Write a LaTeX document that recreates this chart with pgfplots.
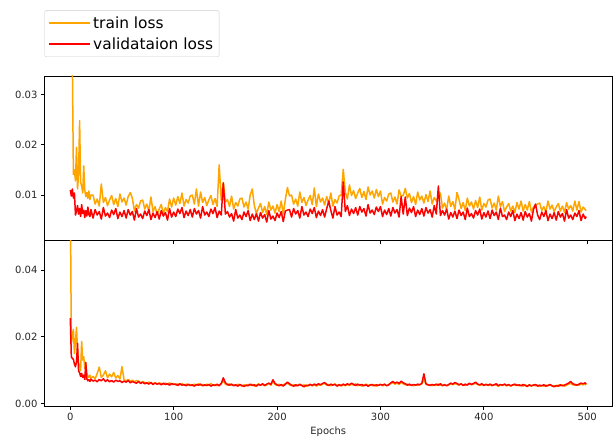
\documentclass[border=0pt]{standalone}
\usepackage{pgfplots}
\pgfplotsset{compat=1.18}
\usepackage{pgfplotstable}
\usepackage{fontspec}
\setmainfont{DejaVu Sans}
\definecolor{mplorange}{HTML}{FFA500}
\definecolor{mplred}{HTML}{FF0000}

\pgfplotstableread{
x t v
0 0.0600 0.0110
1 0.0420 0.0098
2 0.0360 0.0112
3 0.0141 0.0094
4 0.0150 0.0104
5 0.0128 0.0060
6 0.0195 0.0068
7 0.0112 0.0079
8 0.0140 0.0062
9 0.0248 0.0073
10 0.0125 0.0057
11 0.0118 0.0081
12 0.0104 0.0063
13 0.0158 0.0070
14 0.0110 0.0055
15 0.0097 0.0069
16 0.0105 0.0058
17 0.0093 0.0076
18 0.0108 0.0061
19 0.0091 0.0057
20 0.0100 0.0071
22 0.0100 0.0054
24 0.0082 0.0071
26 0.0092 0.0060
28 0.0078 0.0067
30 0.0122 0.0052
32 0.0085 0.0075
34 0.0095 0.0058
36 0.0079 0.0064
38 0.0090 0.0055
40 0.0099 0.0070
42 0.0081 0.0061
44 0.0093 0.0073
46 0.0077 0.0053
48 0.0102 0.0066
50 0.0086 0.0057
52 0.0094 0.0069
54 0.0080 0.0054
56 0.0097 0.0071
58 0.0105 0.0060
60 0.0094 0.0067
62 0.0068 0.0050
64 0.0081 0.0073
66 0.0074 0.0056
68 0.0088 0.0062
70 0.0090 0.0053
72 0.0072 0.0068
74 0.0082 0.0059
76 0.0068 0.0071
78 0.0096 0.0051
80 0.0067 0.0064
82 0.0077 0.0055
84 0.0061 0.0067
86 0.0072 0.0052
88 0.0081 0.0069
90 0.0063 0.0058
92 0.0075 0.0065
94 0.0067 0.0050
96 0.0092 0.0073
98 0.0076 0.0056
100 0.0094 0.0066
102 0.0080 0.0057
104 0.0097 0.0072
106 0.0083 0.0063
108 0.0104 0.0075
110 0.0078 0.0055
112 0.0091 0.0068
114 0.0084 0.0059
116 0.0098 0.0071
118 0.0100 0.0056
120 0.0082 0.0073
122 0.0112 0.0062
124 0.0078 0.0069
126 0.0106 0.0054
128 0.0085 0.0077
130 0.0095 0.0060
132 0.0079 0.0066
134 0.0090 0.0057
136 0.0099 0.0072
138 0.0081 0.0063
140 0.0093 0.0075
142 0.0077 0.0055
144 0.0160 0.0068
146 0.0090 0.0060
148 0.0125 0.0124
150 0.0086 0.0062
152 0.0091 0.0067
154 0.0077 0.0056
156 0.0098 0.0063
158 0.0072 0.0048
160 0.0085 0.0071
162 0.0078 0.0054
164 0.0092 0.0060
166 0.0094 0.0051
168 0.0076 0.0066
170 0.0086 0.0057
172 0.0072 0.0069
174 0.0100 0.0049
176 0.0112 0.0062
178 0.0079 0.0051
180 0.0063 0.0063
182 0.0074 0.0048
184 0.0083 0.0065
186 0.0065 0.0054
188 0.0077 0.0061
190 0.0061 0.0046
192 0.0086 0.0069
194 0.0070 0.0052
196 0.0078 0.0058
198 0.0064 0.0049
200 0.0081 0.0064
202 0.0067 0.0055
204 0.0088 0.0067
206 0.0062 0.0047
208 0.0091 0.0068
210 0.0115 0.0070
212 0.0098 0.0071
214 0.0100 0.0056
216 0.0082 0.0073
218 0.0092 0.0062
220 0.0078 0.0069
222 0.0106 0.0054
224 0.0085 0.0077
226 0.0095 0.0060
228 0.0079 0.0066
230 0.0090 0.0057
232 0.0099 0.0072
234 0.0081 0.0063
236 0.0114 0.0075
238 0.0077 0.0055
240 0.0102 0.0068
242 0.0086 0.0059
244 0.0094 0.0071
246 0.0080 0.0056
248 0.0097 0.0073
250 0.0083 0.0088
252 0.0104 0.0069
254 0.0078 0.0054
256 0.0091 0.0077
258 0.0084 0.0060
260 0.0098 0.0066
262 0.0100 0.0057
264 0.0151 0.0126
266 0.0106 0.0067
268 0.0092 0.0079
270 0.0120 0.0059
272 0.0099 0.0072
274 0.0109 0.0063
276 0.0093 0.0075
278 0.0104 0.0060
280 0.0113 0.0077
282 0.0095 0.0066
284 0.0107 0.0073
286 0.0091 0.0058
288 0.0116 0.0081
290 0.0100 0.0064
292 0.0108 0.0070
294 0.0094 0.0061
296 0.0111 0.0076
298 0.0097 0.0067
300 0.0108 0.0077
302 0.0082 0.0057
304 0.0095 0.0070
306 0.0088 0.0061
308 0.0102 0.0073
310 0.0104 0.0058
312 0.0086 0.0075
314 0.0096 0.0064
316 0.0082 0.0071
318 0.0110 0.0056
320 0.0098 0.0097
322 0.0099 0.0062
324 0.0113 0.0096
326 0.0094 0.0059
328 0.0103 0.0074
330 0.0085 0.0065
332 0.0097 0.0077
334 0.0081 0.0057
336 0.0106 0.0070
338 0.0090 0.0061
340 0.0098 0.0073
342 0.0084 0.0058
344 0.0101 0.0075
346 0.0087 0.0064
348 0.0108 0.0071
350 0.0082 0.0056
352 0.0095 0.0079
354 0.0088 0.0062
356 0.0096 0.0118
358 0.0104 0.0059
360 0.0074 0.0069
362 0.0084 0.0060
364 0.0070 0.0072
366 0.0098 0.0052
368 0.0077 0.0065
370 0.0087 0.0056
372 0.0071 0.0068
374 0.0105 0.0053
376 0.0091 0.0070
378 0.0073 0.0059
380 0.0085 0.0066
382 0.0069 0.0051
384 0.0094 0.0074
386 0.0078 0.0057
388 0.0086 0.0063
390 0.0072 0.0054
392 0.0089 0.0069
394 0.0075 0.0060
396 0.0096 0.0072
398 0.0070 0.0052
400 0.0083 0.0065
402 0.0076 0.0056
404 0.0090 0.0068
406 0.0092 0.0053
408 0.0074 0.0070
410 0.0084 0.0059
412 0.0070 0.0066
414 0.0098 0.0051
416 0.0077 0.0074
418 0.0087 0.0057
420 0.0067 0.0060
422 0.0076 0.0051
424 0.0083 0.0066
426 0.0068 0.0057
428 0.0078 0.0069
430 0.0065 0.0049
432 0.0085 0.0062
434 0.0072 0.0053
436 0.0088 0.0065
438 0.0068 0.0050
440 0.0081 0.0067
442 0.0070 0.0056
444 0.0087 0.0063
446 0.0066 0.0048
448 0.0076 0.0071
450 0.0080 0.0082
452 0.0082 0.0060
454 0.0084 0.0051
456 0.0069 0.0066
458 0.0077 0.0057
460 0.0066 0.0069
462 0.0088 0.0049
464 0.0072 0.0062
466 0.0080 0.0053
468 0.0067 0.0065
470 0.0076 0.0050
472 0.0083 0.0067
474 0.0068 0.0056
476 0.0078 0.0063
478 0.0065 0.0048
480 0.0085 0.0071
482 0.0072 0.0054
484 0.0079 0.0060
486 0.0068 0.0051
488 0.0088 0.0064
490 0.0070 0.0057
492 0.0087 0.0069
494 0.0066 0.0049
496 0.0076 0.0062
498 0.0071 0.0053
499 0.0069 0.0057
}\toptable

\pgfplotstableread{
x t v
0 0.0650 0.0256
1 0.0180 0.0140
2 0.0200 0.0135
3 0.0222 0.0132
4 0.0150 0.0118
5 0.0185 0.0110
6 0.0228 0.0125
7 0.0160 0.0180
8 0.0120 0.0098
9 0.0115 0.0092
10 0.0098 0.0081
11 0.0186 0.0090
12 0.0130 0.0078
13 0.0140 0.0085
14 0.0105 0.0072
15 0.0118 0.0123
16 0.0090 0.0074
17 0.0082 0.0068
18 0.0078 0.0071
19 0.0085 0.0066
20 0.0076 0.0073
22 0.0081 0.0067
24 0.0074 0.0070
26 0.0090 0.0065
28 0.0109 0.0072
30 0.0078 0.0068
32 0.0085 0.0074
34 0.0098 0.0066
36 0.0077 0.0071
38 0.0088 0.0065
40 0.0080 0.0069
42 0.0093 0.0064
44 0.0076 0.0070
46 0.0084 0.0066
48 0.0073 0.0068
50 0.0110 0.0063
52 0.0071 0.0067
54 0.0068 0.0064
56 0.0072 0.0069
58 0.0066 0.0062
60 0.0070 0.0066
62 0.0065 0.0063
64 0.0069 0.0061
66 0.0067 0.0066
68 0.0062 0.0060
70 0.0066 0.0064
72 0.0063 0.0059
74 0.0060 0.0062
76 0.0064 0.0058
78 0.0061 0.0063
80 0.0059 0.0057
82 0.0063 0.0061
84 0.0058 0.0058
86 0.0062 0.0060
88 0.0060 0.0056
90 0.0057 0.0061
92 0.0061 0.0057
94 0.0058 0.0059
96 0.0062 0.0055
98 0.0056 0.0060
100 0.0060 0.0057
102 0.0055 0.0058
104 0.0059 0.0054
106 0.0056 0.0059
108 0.0060 0.0055
110 0.0054 0.0057
112 0.0058 0.0053
114 0.0055 0.0058
116 0.0057 0.0054
118 0.0053 0.0056
120 0.0058 0.0052
122 0.0055 0.0057
124 0.0059 0.0055
126 0.0054 0.0058
128 0.0057 0.0053
130 0.0053 0.0056
132 0.0058 0.0054
134 0.0055 0.0057
136 0.0060 0.0052
138 0.0054 0.0056
140 0.0057 0.0054
142 0.0053 0.0058
144 0.0056 0.0053
146 0.0059 0.0060
148 0.0068 0.0077
150 0.0058 0.0062
152 0.0055 0.0057
154 0.0059 0.0055
156 0.0054 0.0058
158 0.0057 0.0053
160 0.0053 0.0056
162 0.0058 0.0052
164 0.0055 0.0057
166 0.0052 0.0054
168 0.0056 0.0051
170 0.0053 0.0055
172 0.0057 0.0053
174 0.0054 0.0058
176 0.0058 0.0054
178 0.0052 0.0056
180 0.0055 0.0052
182 0.0059 0.0057
184 0.0054 0.0055
186 0.0057 0.0059
188 0.0053 0.0054
190 0.0056 0.0058
192 0.0060 0.0061
194 0.0055 0.0057
196 0.0066 0.0071
198 0.0057 0.0060
200 0.0054 0.0056
202 0.0058 0.0053
204 0.0053 0.0057
206 0.0056 0.0052
208 0.0059 0.0058
210 0.0061 0.0064
212 0.0056 0.0059
214 0.0053 0.0055
216 0.0057 0.0052
218 0.0052 0.0056
220 0.0055 0.0053
222 0.0058 0.0057
224 0.0053 0.0054
226 0.0056 0.0050
228 0.0051 0.0055
230 0.0055 0.0053
232 0.0058 0.0057
234 0.0053 0.0054
236 0.0056 0.0058
238 0.0052 0.0055
240 0.0057 0.0059
242 0.0054 0.0056
244 0.0058 0.0060
246 0.0060 0.0063
248 0.0055 0.0057
250 0.0057 0.0054
252 0.0053 0.0058
254 0.0056 0.0055
256 0.0059 0.0057
258 0.0054 0.0052
260 0.0057 0.0056
262 0.0052 0.0054
264 0.0056 0.0058
266 0.0053 0.0055
268 0.0057 0.0059
270 0.0054 0.0056
272 0.0058 0.0061
274 0.0055 0.0057
276 0.0059 0.0054
278 0.0053 0.0058
280 0.0056 0.0055
282 0.0052 0.0057
284 0.0055 0.0053
286 0.0058 0.0056
288 0.0054 0.0052
290 0.0057 0.0055
292 0.0053 0.0057
294 0.0056 0.0053
296 0.0052 0.0056
298 0.0055 0.0054
300 0.0058 0.0057
302 0.0053 0.0055
304 0.0056 0.0058
306 0.0054 0.0053
308 0.0057 0.0056
310 0.0060 0.0062
312 0.0062 0.0066
314 0.0058 0.0061
316 0.0061 0.0064
318 0.0057 0.0060
320 0.0063 0.0067
322 0.0059 0.0062
324 0.0056 0.0059
326 0.0058 0.0055
328 0.0054 0.0058
330 0.0057 0.0054
332 0.0053 0.0057
334 0.0056 0.0055
336 0.0054 0.0058
338 0.0057 0.0056
340 0.0059 0.0060
342 0.0072 0.0089
344 0.0058 0.0059
346 0.0055 0.0056
348 0.0057 0.0054
350 0.0053 0.0057
352 0.0056 0.0055
354 0.0054 0.0058
356 0.0058 0.0055
358 0.0055 0.0059
360 0.0053 0.0054
362 0.0057 0.0056
364 0.0054 0.0053
366 0.0056 0.0057
368 0.0059 0.0061
370 0.0056 0.0058
372 0.0060 0.0063
374 0.0057 0.0060
376 0.0055 0.0056
378 0.0058 0.0059
380 0.0056 0.0054
382 0.0054 0.0058
384 0.0057 0.0055
386 0.0059 0.0061
388 0.0056 0.0057
390 0.0058 0.0060
392 0.0061 0.0064
394 0.0057 0.0058
396 0.0054 0.0056
398 0.0057 0.0059
400 0.0055 0.0054
402 0.0058 0.0057
404 0.0054 0.0055
406 0.0056 0.0058
408 0.0053 0.0054
410 0.0057 0.0056
412 0.0055 0.0059
414 0.0052 0.0053
416 0.0056 0.0057
418 0.0054 0.0055
420 0.0057 0.0058
422 0.0053 0.0054
424 0.0055 0.0057
426 0.0052 0.0053
428 0.0056 0.0056
430 0.0054 0.0058
432 0.0057 0.0054
434 0.0053 0.0056
436 0.0055 0.0053
438 0.0052 0.0057
440 0.0056 0.0054
442 0.0053 0.0051
444 0.0055 0.0056
446 0.0052 0.0053
448 0.0056 0.0055
450 0.0053 0.0057
452 0.0055 0.0052
454 0.0051 0.0055
456 0.0054 0.0053
458 0.0052 0.0056
460 0.0055 0.0052
462 0.0053 0.0054
464 0.0056 0.0057
466 0.0052 0.0053
468 0.0054 0.0050
470 0.0051 0.0054
472 0.0055 0.0052
474 0.0053 0.0056
476 0.0056 0.0053
478 0.0052 0.0055
480 0.0055 0.0058
482 0.0058 0.0061
484 0.0060 0.0066
486 0.0056 0.0059
488 0.0054 0.0057
490 0.0057 0.0055
492 0.0055 0.0058
494 0.0058 0.0061
496 0.0056 0.0059
498 0.0058 0.0062
499 0.0055 0.0058
}\bottomtable

\pgfplotsset{
  lossaxis/.style={
    scale only axis,
    width=567.5pt,
    xmin=-24.95, xmax=523.95,
    axis line style={black, line width=0.8pt},
    tick align=outside,
    xtick pos=bottom, ytick pos=left,
    major tick length=3.5pt,
    tick style={black, line width=0.8pt},
    xtick={0,100,200,300,400,500},
    scaled y ticks=false,
    /pgf/number format/assume math mode=true,
    tick label style={font=\fontsize{10}{12}\selectfont, text=black!85},
    every axis plot/.append style={line width=1.5pt, line join=round, mark=none},
  },
}

\begin{document}
\begin{tikzpicture}
\useasboundingbox (0pt,0pt) rectangle (613pt,439pt);
\begin{axis}[lossaxis,
  at={(44.5pt,198.5pt)}, anchor=south west,
  height=164.5pt,
  ymin=0.00093, ymax=0.03373,
  ytick={0.01,0.02,0.03},
  yticklabels={0.01,0.02,0.03},
  xticklabels={},
  legend style={at={(0,1.1155)}, anchor=south west,
    draw=black!20, rounded corners=2pt,
    font=\fontsize{15.4}{18}\selectfont,
    inner xsep=4pt, inner ysep=4pt,
    row sep=4pt,
    cells={anchor=west}},
  legend image code/.code={%
    \draw[#1, line width=1.5pt] (0pt,0pt) -- (33pt,0pt);
    \path (33pt,0pt) -- (41pt,0pt);},
]
\addplot[color=mplorange, line width=1.5pt] table[x=x, y=t] {\toptable};
\addlegendentry{train loss}
\addplot[color=mplred, line width=1.5pt] table[x=x, y=v] {\toptable};
\addlegendentry{validataion loss}
\end{axis}
\begin{axis}[lossaxis,
  at={(44.5pt,32.5pt)}, anchor=south west,
  height=166pt,
  ymin=-0.0009, ymax=0.04883,
  ytick={0,0.02,0.04},
  yticklabels={0.00,0.02,0.04},
  xticklabels={0,100,200,300,400,500},
  xlabel={Epochs},
  xlabel style={font=\fontsize{10}{12}\selectfont, text=black!85, yshift=1pt},
]
\addplot[color=mplorange, line width=1.5pt] table[x=x, y=t] {\bottomtable};
\addplot[color=mplred, line width=1.5pt] table[x=x, y=v] {\bottomtable};
\end{axis}
\end{tikzpicture}
\end{document}
